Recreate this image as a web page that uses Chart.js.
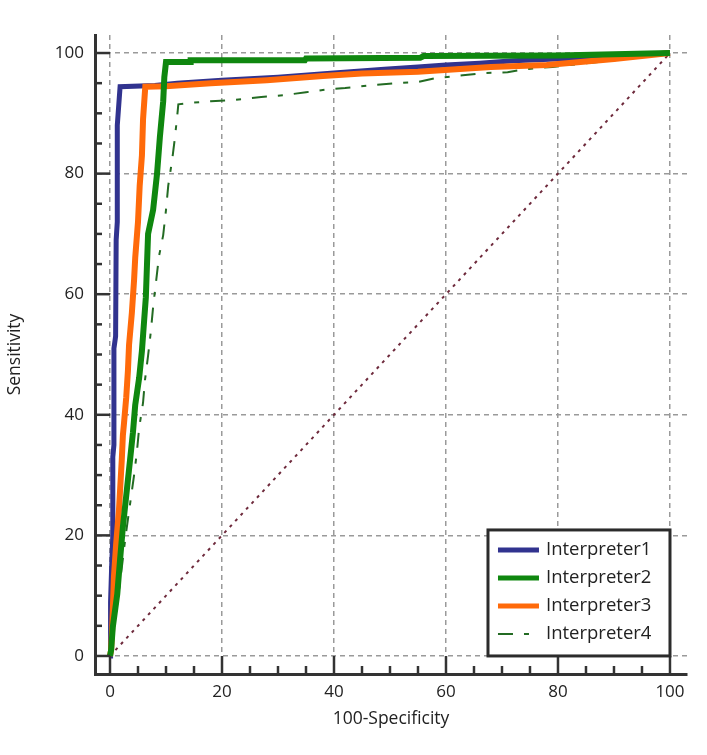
<!DOCTYPE html>
<html>
<head>
<meta charset="utf-8">
<script src="https://cdn.jsdelivr.net/npm/chart.js@4"></script>
<style>
html,body{margin:0;padding:0;background:#fff;}
#wrap{width:707px;height:755px;}
</style>
</head>
<body>
<div id="wrap"><canvas id="c" width="707" height="755"></canvas></div>
<script>
const seriesNames = ['Interpreter1','Interpreter2','Interpreter3','Interpreter4'];
const tickValues = [0,20,40,60,80,100];
const xTitle = '100-Specificity';
const yTitle = 'Sensitivity';

const int1X = [0,0.1,0.3,0.5,0.5,0.7,0.7,1.0,1.1,1.3,1.3,1.8,8,12,20,30,40,49,55,60,66,72,85,100];
const int1Y = [0,9,15,20,33,35,51,53,69,72,88,94.4,94.6,95.0,95.5,96.0,96.7,97.3,97.7,98.0,98.3,98.7,99.2,100];

const int2X = [0,0.2,0.5,1.3,1.8,2.3,3.6,4.1,4.5,5.2,5.7,6.1,6.4,6.6,6.8,7.7,8.4,8.9,9.5,9.7,10,14.3,14.4,34.8,35,55.4,56,80,100];
const int2Y = [0,1,4.8,10.3,16,21.4,32.7,37.1,41.6,46.1,50.6,55.7,59.5,64.8,70,74,80,86,92,96,98.5,98.5,98.8,98.8,99.1,99.2,99.5,99.6,100];

const int3X = [0,0.2,0.4,0.7,1.1,1.6,2.1,2.3,2.5,2.9,3.2,3.4,3.9,4.3,4.5,5.0,5.3,5.7,5.9,6.3,10,18,28,38,45,55,68,78,90,100];
const int3Y = [0,1,4.8,13.1,18.6,24.2,32.5,36.6,38.6,42.9,47.3,51.6,56.9,62.4,66,72,78,83,89,94.4,94.5,95.0,95.5,96.2,96.6,96.9,97.7,98.0,99.0,100];

const int4X = [0,1.5,2.8,4.3,4.8,5.2,5.9,6.25,6.8,7.3,7.7,8.2,8.75,9.5,10,10.4,11.1,11.6,12.1,12.2,14,18,22,27,31,35,39,42,47,51,55,58,63,67,71,74,79,82,90,100];
const int4Y = [0,10,20,30,33.8,37.8,42,45.8,49.8,53.9,57.9,61.9,66.3,69.8,74,78,82.3,86,90.5,91.5,91.7,92,92.2,92.7,93,93.5,94,94.2,94.7,95,95.2,95.8,96.3,96.7,96.8,97.3,97.7,98,98.8,100];

const diagX = [0,100];
const diagY = [0,100];

function pts(xs, ys){ return xs.map((x,i)=>({x:x, y:ys[i]})); }

const FONT = "'Open Sans', 'Liberation Sans', sans-serif";
const colors = ['#31338f','#0f870f','#ff6a0a','#236b23'];
const widths = [5,6,6,2];
const dashes = [[],[],[],[15,11,5,11]];

const innerTicks = {
  id:'innerTicks',
  afterDraw(chart){
    const ctx = chart.ctx;
    const xs = chart.scales.x, ys = chart.scales.y;
    const area = chart.chartArea;
    ctx.save();
    ctx.strokeStyle = '#333';
    ctx.lineWidth = 2.5;
    ctx.lineCap = 'butt';
    for (let v=0; v<=100; v+=5){
      const major = v % 20 === 0;
      const px = xs.getPixelForValue(v);
      const lenX = major ? (area.bottom - ys.getPixelForValue(0)) : 8;
      ctx.beginPath(); ctx.moveTo(px, area.bottom); ctx.lineTo(px, area.bottom - lenX); ctx.stroke();
      const py = ys.getPixelForValue(v);
      const lenY = major ? (xs.getPixelForValue(0) - area.left) : 7;
      ctx.beginPath(); ctx.moveTo(area.left, py); ctx.lineTo(area.left + lenY, py); ctx.stroke();
    }
    ctx.restore();

    // legend box, bottom-right inside plot
    const bx = xs.getPixelForValue(67.5), by = ys.getPixelForValue(20.9);
    const bw = 182, bh = 126;
    ctx.save();
    ctx.fillStyle = '#fff';
    ctx.fillRect(bx, by, bw, bh);
    ctx.strokeStyle = '#2b2b2b';
    ctx.lineWidth = 3;
    ctx.strokeRect(bx, by, bw, bh);
    ctx.font = "18.5px " + FONT;
    ctx.textBaseline = 'middle';
    ctx.fillStyle = '#222';
    const ds = chart.data.datasets;
    for (let i=0;i<4;i++){
      const d = ds[i];
      const cy = by + 20 + i*28;
      ctx.save();
      ctx.strokeStyle = d.borderColor;
      ctx.lineWidth = i===3 ? 2 : 5;
      ctx.setLineDash(d.borderDash || []);
      ctx.beginPath(); ctx.moveTo(bx+10, cy); ctx.lineTo(bx+51, cy); ctx.stroke();
      ctx.restore();
      ctx.fillText(d.label, bx + 58, cy);
    }
    ctx.restore();
  }
};

const datasets = seriesNames.map((n,i)=>({
  label:n,
  data: pts([int1X,int2X,int3X,int4X][i],[int1Y,int2Y,int3Y,int4Y][i]),
  borderColor: colors[i],
  backgroundColor: colors[i],
  borderWidth: widths[i],
  borderDash: dashes[i],
  pointRadius:0,
  showLine:true,
  fill:false,
  tension:0,
  order:[2,0,1,3][i]
}));
datasets.push({
  label:'diag',
  data: pts(diagX, diagY),
  borderColor:'#6e2a3c',
  borderWidth:2,
  borderDash:[3,5],
  pointRadius:0,
  showLine:true,
  fill:false,
  order:4
});

new Chart(document.getElementById('c'), {
  type:'scatter',
  data:{datasets},
  options:{
    responsive:false,
    animation:false,
    devicePixelRatio:1,
    layout:{padding:{left:0, top:35, right:20, bottom:0}},
    plugins:{legend:{display:false}, tooltip:{enabled:false}},
    scales:{
      x:{
        type:'linear', min:-2.68, max:103.04,
        afterBuildTicks(s){ s.ticks = tickValues.map(v=>({value:v})); },
        afterFit(s){ s.height = 81; },
        grid:{color:'#9a9a9a', lineWidth:1.5, drawTicks:false},
        border:{display:true, color:'#333', width:3, dash:[5,4]},
        ticks:{color:'#222', font:{family:FONT, size:17}, padding:8, maxRotation:0},
        title:{display:true, text:xTitle, color:'#222', font:{family:FONT, size:17.5}, padding:{top:0,bottom:25}}
      },
      y:{
        type:'linear', min:-2.99, max:102.99,
        afterBuildTicks(s){ s.ticks = tickValues.map(v=>({value:v})); },
        afterFit(s){ s.width = 95; },
        grid:{color:'#9a9a9a', lineWidth:1.5, drawTicks:false},
        border:{display:true, color:'#333', width:3, dash:[5,4]},
        ticks:{color:'#222', font:{family:FONT, size:17}, padding:11},
        title:{display:true, text:yTitle, color:'#222', font:{family:FONT, size:17.5}, padding:{top:5,bottom:0}}
      }
    }
  },
  plugins:[innerTicks]
});
</script>
</body>
</html>
